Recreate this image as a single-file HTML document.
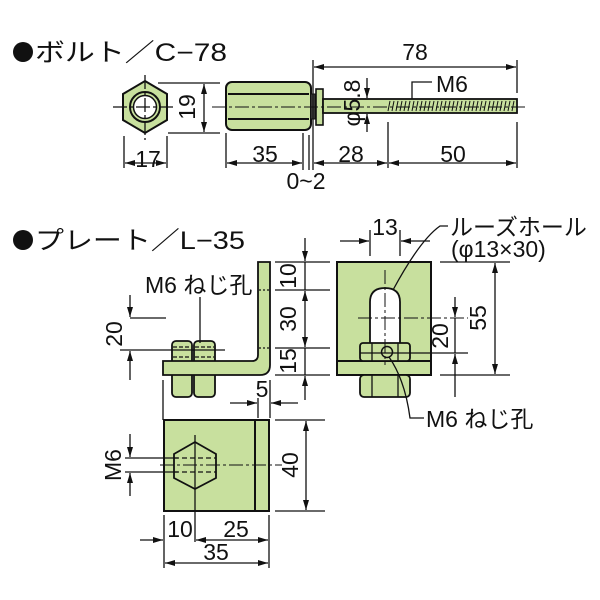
<!DOCTYPE html>
<html><head><meta charset="utf-8"><style>
html,body{margin:0;padding:0;background:#fff}
svg{display:block}
text{font-family:"Liberation Sans","Noto Sans CJK JP",sans-serif;fill:#111}
</style></head><body>
<svg width="600" height="600" viewBox="0 0 600 600" xmlns="http://www.w3.org/2000/svg">
<defs>
<marker id="a" viewBox="0 0 10 6" refX="10" refY="3" markerWidth="10" markerHeight="6" orient="auto-start-reverse" markerUnits="userSpaceOnUse"><path d="M0,0L10,3L0,6z" fill="#111"/></marker>
</defs>
<g font-size="25">
<circle cx="23" cy="52" r="10" fill="#111"/>
<text x="35" y="61" textLength="192" lengthAdjust="spacingAndGlyphs">ボルト／C−78</text>
<circle cx="23" cy="240" r="10" fill="#111"/>
<text x="35" y="249" textLength="210" lengthAdjust="spacingAndGlyphs">プレート／L−35</text>
</g>
<g stroke="#111" stroke-width="1.3" fill="none">
<polygon points="145,81 167,94 167,120 145,133 123,120 123,94" fill="#c8e09e" stroke-width="2"/>
<circle cx="145" cy="107" r="15" stroke-width="2"/>
<circle cx="145" cy="107" r="11.5" fill="#fff" stroke-width="1.5"/>
<line x1="113" y1="107" x2="173" y2="107" stroke-dasharray="14,3,3,3"/>
<line x1="145" y1="75" x2="145" y2="140" stroke-dasharray="14,3,3,3"/>
<line x1="158" y1="83" x2="220" y2="83"/><line x1="168" y1="133" x2="220" y2="133"/>
<line x1="204" y1="84" x2="204" y2="132" marker-start="url(#a)" marker-end="url(#a)"/>
<line x1="124" y1="136" x2="124" y2="168"/><line x1="167" y1="136" x2="167" y2="168"/>
<line x1="125" y1="163" x2="166" y2="163" marker-start="url(#a)" marker-end="url(#a)"/>
<rect x="226" y="82" width="85" height="48" rx="6" fill="#c8e09e" stroke-width="2"/>
<line x1="228" y1="94" x2="309" y2="94" stroke-width="2"/>
<line x1="228" y1="119" x2="309" y2="119" stroke-width="2"/>
<rect x="311" y="94" width="4" height="25" fill="#555" stroke-width="1"/>
<rect x="316" y="89" width="7" height="36" fill="#c8e09e" stroke-width="1.6"/>
<rect x="323" y="99" width="194" height="14" fill="#c8e09e" stroke-width="1.8"/>
<g stroke-width="1">
<path d="M390,101l-2,10M394,101l-2,10M398,101l-2,10M402,101l-2,10M406,101l-2,10M410,101l-2,10M414,101l-2,10M418,101l-2,10M422,101l-2,10M426,101l-2,10M430,101l-2,10M434,101l-2,10M438,101l-2,10M442,101l-2,10M446,101l-2,10M450,101l-2,10M454,101l-2,10M458,101l-2,10M462,101l-2,10M466,101l-2,10M470,101l-2,10M474,101l-2,10M478,101l-2,10M482,101l-2,10M486,101l-2,10M490,101l-2,10M494,101l-2,10M498,101l-2,10M502,101l-2,10M506,101l-2,10M510,101l-2,10M514,101l-2,10"/>
</g>
<line x1="212" y1="107" x2="525" y2="107" stroke-dasharray="14,3,3,3" stroke-width="1"/>
<line x1="313" y1="60" x2="313" y2="170"/>
<line x1="517" y1="60" x2="517" y2="93"/><line x1="517" y1="122" x2="517" y2="168"/>
<line x1="314" y1="67" x2="516" y2="67" marker-start="url(#a)" marker-end="url(#a)"/>
<polyline points="412,99 412,82 432,82"/>
<line x1="367" y1="78" x2="367" y2="98" marker-end="url(#a)"/>
<line x1="367" y1="132" x2="367" y2="114" marker-end="url(#a)"/>
<line x1="226" y1="133" x2="226" y2="168"/>
<line x1="303" y1="133" x2="303" y2="170"/><line x1="309" y1="135" x2="309" y2="170"/>
<line x1="388" y1="122" x2="388" y2="168"/>
<line x1="227" y1="163" x2="302" y2="163" marker-start="url(#a)" marker-end="url(#a)"/>
<line x1="314" y1="163" x2="387" y2="163" marker-start="url(#a)" marker-end="url(#a)"/>
<line x1="389" y1="163" x2="516" y2="163" marker-start="url(#a)" marker-end="url(#a)"/>

<rect x="172" y="341" width="20" height="56" rx="4" fill="#c8e09e" stroke-width="1.8"/>
<rect x="194" y="341" width="21" height="56" rx="4" fill="#c8e09e" stroke-width="1.8"/>
<path d="M258,262H270V365Q270,375 260,375H163V361H252Q258,361 258,355Z" fill="#c8e09e" stroke-width="1.8"/>
<path d="M173,347H191M195,347H214M173,357H191M195,357H214" stroke-dasharray="4,2" stroke-width="1.2"/>
<path d="M259,290H269M259,348H269" stroke-dasharray="2,2"/>
<line x1="200" y1="297" x2="200" y2="343"/>
<line x1="275" y1="262" x2="330" y2="262"/><line x1="275" y1="290" x2="330" y2="290"/>
<line x1="275" y1="348" x2="330" y2="348"/><line x1="275" y1="375" x2="330" y2="375"/>
<line x1="305" y1="238" x2="305" y2="261" marker-end="url(#a)"/>
<line x1="305" y1="291" x2="305" y2="347" marker-start="url(#a)" marker-end="url(#a)"/>
<line x1="305" y1="400" x2="305" y2="376" marker-end="url(#a)"/>
<line x1="305" y1="262" x2="305" y2="290"/><line x1="305" y1="348" x2="305" y2="375"/>
<line x1="130" y1="318" x2="166" y2="318"/><line x1="120" y1="350" x2="225" y2="350"/>
<line x1="130" y1="295" x2="130" y2="317" marker-end="url(#a)"/>
<line x1="130" y1="380" x2="130" y2="351" marker-end="url(#a)"/>
<line x1="163" y1="380" x2="163" y2="420"/>
<line x1="258" y1="398" x2="258" y2="418"/><line x1="270" y1="380" x2="270" y2="418"/>
<line x1="230" y1="403" x2="257" y2="403" marker-end="url(#a)"/>
<line x1="298" y1="403" x2="271" y2="403" marker-end="url(#a)"/>

<rect x="164" y="420" width="105" height="91" fill="#c8e09e" stroke-width="2"/>
<line x1="255" y1="420" x2="255" y2="511" stroke-width="2"/>
<polygon points="195,442 216,454 216,478 195,489 174,478 174,454" stroke-width="1.8"/>
<path d="M174,458H216M174,472H216" stroke-dasharray="5,3"/>
<line x1="160" y1="465" x2="282" y2="465" stroke-dasharray="14,3,3,3" stroke-width="1"/>
<line x1="195" y1="435" x2="195" y2="542"/>
<line x1="125" y1="458" x2="178" y2="458"/><line x1="125" y1="472" x2="178" y2="472"/>
<line x1="130" y1="434" x2="130" y2="457" marker-end="url(#a)"/>
<line x1="130" y1="496" x2="130" y2="473" marker-end="url(#a)"/>
<line x1="275" y1="420" x2="325" y2="420"/><line x1="275" y1="511" x2="325" y2="511"/>
<line x1="306" y1="421" x2="306" y2="510" marker-start="url(#a)" marker-end="url(#a)"/>
<line x1="164" y1="515" x2="164" y2="568"/><line x1="269" y1="515" x2="269" y2="568"/>
<line x1="140" y1="540" x2="163" y2="540" marker-end="url(#a)"/>
<line x1="196" y1="540" x2="268" y2="540" marker-start="url(#a)" marker-end="url(#a)"/>
<line x1="165" y1="563" x2="268" y2="563" marker-start="url(#a)" marker-end="url(#a)"/>

<rect x="337" y="262" width="94" height="113" fill="#c8e09e" stroke-width="2"/>
<line x1="337" y1="361" x2="431" y2="361" stroke-width="2"/>
<path d="M370,347V302Q370,288 385,288Q400,288 400,302V347Z" fill="#fff" stroke-width="1.8"/>
<rect x="360" y="343" width="50" height="18" rx="3" fill="#c8e09e" stroke-width="1.8"/>
<path d="M372,343V361M398,343V361"/>
<rect x="360" y="375" width="50" height="22" rx="4" fill="#c8e09e" stroke-width="1.8"/>
<path d="M372,375V397M398,375V397"/>
<circle cx="387" cy="352" r="5.5" stroke-width="1.5"/>
<line x1="385" y1="270" x2="385" y2="365" stroke-dasharray="14,3,3,3" stroke-width="1"/>
<line x1="358" y1="318" x2="468" y2="318" stroke-dasharray="14,3,3,3" stroke-width="1"/>
<line x1="360" y1="353" x2="468" y2="353"/>
<line x1="370" y1="230" x2="370" y2="256"/><line x1="400" y1="230" x2="400" y2="256"/>
<line x1="340" y1="241" x2="369" y2="241" marker-end="url(#a)"/>
<line x1="430" y1="241" x2="401" y2="241" marker-end="url(#a)"/>
<path d="M393,290Q420,240 440,226H448"/>
<line x1="440" y1="262" x2="510" y2="262"/><line x1="440" y1="375" x2="510" y2="375"/>
<line x1="495" y1="263" x2="495" y2="374" marker-start="url(#a)" marker-end="url(#a)"/>
<line x1="455" y1="297" x2="455" y2="317" marker-end="url(#a)"/>
<line x1="455" y1="397" x2="455" y2="354" marker-end="url(#a)"/>
<line x1="455" y1="318" x2="455" y2="353"/>
<path d="M389,357Q405,380 410,418H424"/>
</g>
<g font-size="23">
<text x="148" y="167" text-anchor="middle">17</text>
<text x="189" y="107" text-anchor="middle" transform="rotate(-90 189 107)" dominant-baseline="middle">19</text>
<text x="415" y="60" text-anchor="middle">78</text>
<text x="436" y="92">M6</text>
<text x="354" y="103" text-anchor="middle" transform="rotate(-90 354 103)" dominant-baseline="middle">φ5.8</text>
<text x="265" y="162" text-anchor="middle">35</text>
<text x="351" y="162" text-anchor="middle">28</text>
<text x="453" y="162" text-anchor="middle">50</text>
<text x="306" y="189" text-anchor="middle">0~2</text>
<text x="145" y="293">M6 ねじ孔</text>
<text x="290" y="276" text-anchor="middle" transform="rotate(-90 290 276)" dominant-baseline="middle">10</text>
<text x="290" y="319" text-anchor="middle" transform="rotate(-90 290 319)" dominant-baseline="middle">30</text>
<text x="290" y="361" text-anchor="middle" transform="rotate(-90 290 361)" dominant-baseline="middle">15</text>
<text x="116" y="334" text-anchor="middle" transform="rotate(-90 116 334)" dominant-baseline="middle">20</text>
<text x="262" y="397" text-anchor="middle">5</text>
<text x="115" y="465" text-anchor="middle" transform="rotate(-90 115 465)" dominant-baseline="middle">M6</text>
<text x="292" y="465" text-anchor="middle" transform="rotate(-90 292 465)" dominant-baseline="middle">40</text>
<text x="180" y="537" text-anchor="middle">10</text>
<text x="236" y="537" text-anchor="middle">25</text>
<text x="216" y="560" text-anchor="middle">35</text>
<text x="385" y="235" text-anchor="middle">13</text>
<text x="450" y="235">ルーズホール</text>
<text x="451" y="257">(φ13×30)</text>
<text x="480" y="318" text-anchor="middle" transform="rotate(-90 480 318)" dominant-baseline="middle">55</text>
<text x="442" y="336" text-anchor="middle" transform="rotate(-90 442 336)" dominant-baseline="middle">20</text>
<text x="426" y="427">M6 ねじ孔</text>
</g>
</svg>
</body></html>
